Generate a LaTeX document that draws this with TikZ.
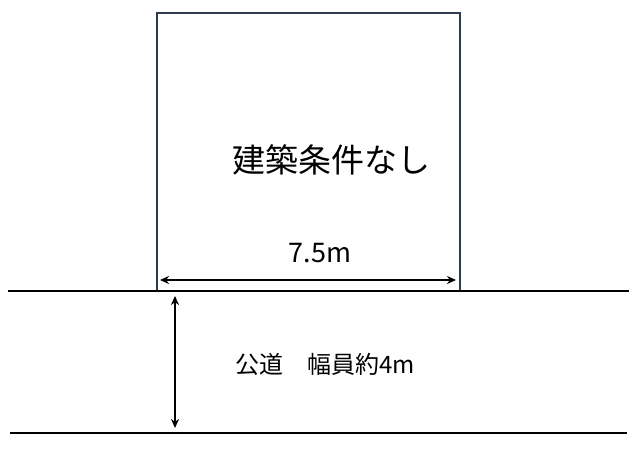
\documentclass[tikz,border=0pt]{standalone}
\usepackage{fontspec}
\newfontfamily\jp{Noto Sans CJK JP}
\usetikzlibrary{arrows.meta}
\definecolor{lotcol}{HTML}{2E3B4C}
\tikzset{
  lotbox/.style={draw=lotcol, line width=2.2pt, inner sep=0pt},
  roadline/.style={draw=black, line width=2.4pt},
  dimarrow/.style={draw=black, line width=2pt, {Stealth[length=9pt,width=8pt]}-{Stealth[length=9pt,width=8pt]}},
  lbl/.style={inner sep=0pt, font=\jp}
}
\begin{document}
\begin{tikzpicture}[x=1pt,y=-1pt]
\useasboundingbox (0,0) rectangle (640,454);
\node[lotbox, minimum width=303pt, minimum height=278pt] (lot) at (308.5,152) {};
\coordinate (r1a) at (8,291);
\coordinate (r1b) at (629,291);
\coordinate (r2a) at (10,433);
\coordinate (r2b) at (627,433);
\draw[roadline] (r1a) -- (r1b);
\draw[roadline] (r2a) -- (r2b);
\coordinate (ha) at (160,280);
\coordinate (hb) at (456,280);
\draw[dimarrow] (ha) -- (hb);
\coordinate (va) at (175,296);
\coordinate (vb) at (175,428);
\draw[dimarrow] (va) -- (vb);
\node[lbl, font=\jp\fontsize{33pt}{36pt}\selectfont] (title) at (331,160) {建築条件なし};
\node[lbl, font=\jp\fontsize{27pt}{30pt}\selectfont] (width) at (320,253) {7.5m};
\node[lbl, font=\jp\fontsize{24pt}{28pt}\selectfont] (road) at (325,364) {公道　幅員約4m};
\end{tikzpicture}
\end{document}
